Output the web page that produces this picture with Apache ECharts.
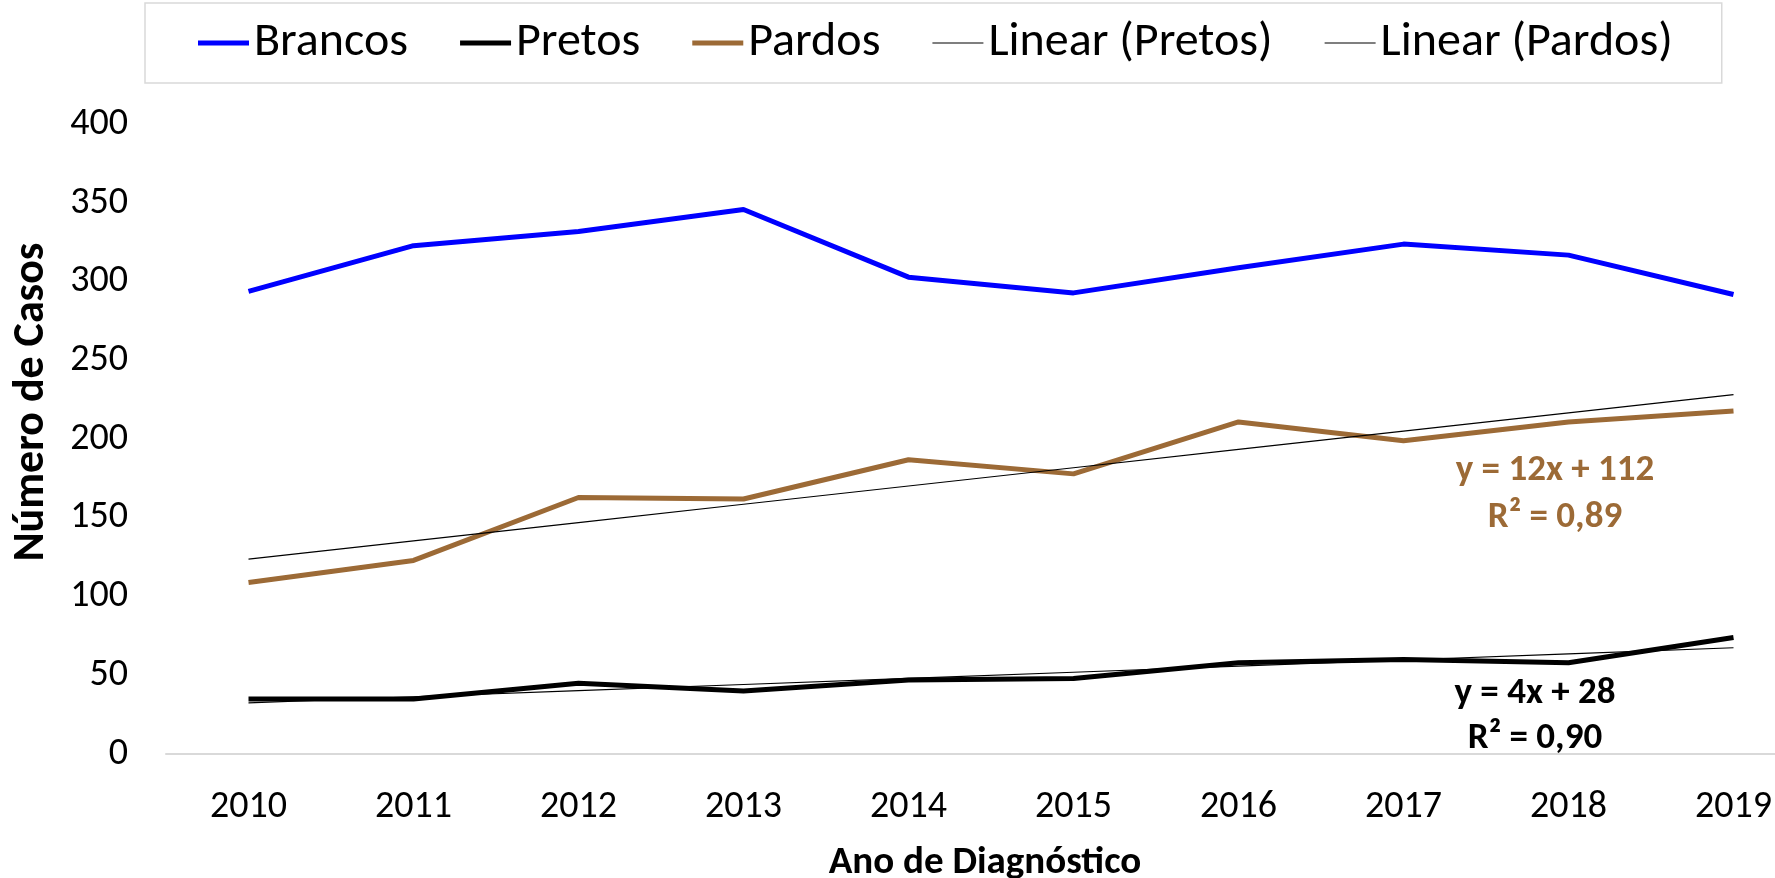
<!DOCTYPE html>
<html>
<head>
<meta charset="utf-8">
<script src="https://cdn.jsdelivr.net/npm/echarts@6/dist/echarts.min.js"></script>
<style>
  html, body { margin: 0; padding: 0; background: #fff; }
  #chart-show { width: 1775px; height: 878px; }
</style>
</head>
<body>
<div id="chart-show"></div>
<script>
// dados
var anos = ['2010', '2011', '2012', '2013', '2014', '2015', '2016', '2017', '2018', '2019'];
var brancos = [294, 323, 332, 346, 303, 293, 309, 324, 317, 292];
var pretos = [35, 35, 45, 40, 47, 48, 58, 60, 58, 74];
var pardos = [109, 123, 163, 162, 187, 178, 211, 199, 211, 218];
var yTicks = [0, 50, 100, 150, 200, 250, 300, 350, 400];

// linha de tendencia (minimos quadrados, x = 1..n como no Excel)
function tendencia(vals) {
    var n = vals.length, sx = 0, sy = 0, sxy = 0, sxx = 0;
    for (var i = 0; i < n; i++) {
        var x = i + 1;
        sx += x; sy += vals[i]; sxy += x * vals[i]; sxx += x * x;
    }
    var a = (n * sxy - sx * sy) / (n * sxx - sx * sx);
    var b = (sy - a * sx) / n;
    return vals.map(function (v, i) { return +(a * (i + 1) + b).toFixed(2); });
}

window.onload = all;
function all() {
    myLineChart();
}
function myLineChart() {
    var myChart = echarts.init(document.getElementById('chart-show'));
    var marrom = '#9C6A36';
    var fonte = 'Carlito, Lato, sans-serif';
    // icones da legenda: barra grossa / linha fina
    var iconeGrosso = 'path://M0,0L51,0L51,5L0,5Z';
    var iconeFino = 'path://M0,0L0.1,0L0,0.1Z M0,1.9L51,1.9L51,3.1L0,3.1Z M0,5L0.1,5L0,4.9Z';

    option = {
        backgroundColor: '#fff',
        animation: false,
        legend: {
            left: 145,
            top: 3,
            padding: [14, 49, 14, 53],
            borderColor: '#d9d9d9',
            borderWidth: 1.5,
            itemWidth: 51,
            itemHeight: 5,
            itemGap: 52,
            textStyle: { fontFamily: fonte, fontSize: 48, lineHeight: 52, color: '#000' },
            data: [
                { name: 'Brancos', icon: iconeGrosso },
                { name: 'Pretos', icon: iconeGrosso },
                { name: 'Pardos', icon: iconeGrosso },
                { name: 'Linear (Pretos)', icon: iconeFino },
                { name: 'Linear (Pardos)', icon: iconeFino }
            ]
        },
        grid: { left: 166, right: -41, top: 124.5, bottom: 124, outerBoundsMode: 'none' },
        xAxis: {
            type: 'category',
            data: anos,
            boundaryGap: true,
            axisLine: { lineStyle: { color: '#d9d9d9', width: 2 } },
            axisTick: { show: false },
            axisLabel: { fontFamily: fonte, fontSize: 38, color: '#000', margin: 34 },
            name: 'Ano de Diagnóstico',
            nameLocation: 'middle',
            nameGap: 90,
            nameTextStyle: { fontFamily: fonte, fontSize: 39, fontWeight: 'bold', color: '#000', padding: [0, 12, 0, 0] }
        },
        yAxis: {
            type: 'value',
            min: yTicks[0],
            max: yTicks[yTicks.length - 1],
            interval: 50,
            axisLine: { show: false },
            axisTick: { show: false },
            splitLine: { show: false },
            axisLabel: { fontFamily: fonte, fontSize: 38, color: '#000', margin: 38 }
        },
        graphic: [
            {
                type: 'text', x: 32, y: 402, rotation: Math.PI / 2,
                style: { text: 'Número de Casos', font: 'bold 44px ' + fonte, fill: '#000', align: 'center', verticalAlign: 'middle' }
            },
            {
                type: 'text', x: 1555, y: 471,
                style: { text: 'y = 12x + 112', font: 'bold 37px ' + fonte, fill: marrom, align: 'center', verticalAlign: 'middle' }
            },
            {
                type: 'text', x: 1555, y: 518,
                style: { text: 'R² = 0,89', font: 'bold 37px ' + fonte, fill: marrom, align: 'center', verticalAlign: 'middle' }
            },
            {
                type: 'text', x: 1535, y: 694,
                style: { text: 'y = 4x + 28', font: 'bold 37px ' + fonte, fill: '#000', align: 'center', verticalAlign: 'middle' }
            },
            {
                type: 'text', x: 1535, y: 739,
                style: { text: 'R² = 0,90', font: 'bold 37px ' + fonte, fill: '#000', align: 'center', verticalAlign: 'middle' }
            }
        ],
        series: [
            {
                name: 'Linear (Pretos)', type: 'line', data: tendencia(pretos),
                symbol: 'none', color: '#000', lineStyle: { color: '#000', width: 1.2 }, z: 3
            },
            {
                name: 'Linear (Pardos)', type: 'line', data: tendencia(pardos),
                symbol: 'none', color: '#000', lineStyle: { color: '#000', width: 1.2 }, z: 3
            },
            {
                name: 'Brancos', type: 'line', data: brancos,
                symbol: 'none', color: '#0000FF', lineStyle: { color: '#0000FF', width: 5 }, z: 2
            },
            {
                name: 'Pretos', type: 'line', data: pretos,
                symbol: 'none', color: '#000', lineStyle: { color: '#000', width: 5 }, z: 2
            },
            {
                name: 'Pardos', type: 'line', data: pardos,
                symbol: 'none', color: marrom, lineStyle: { color: marrom, width: 5 }, z: 2
            }
        ]
    };
    myChart.setOption(option);
    setTimeout(function () {
        window.onresize = function () {
            myChart.resize();
        }
    }, 200);
}
</script>
</body>
</html>
